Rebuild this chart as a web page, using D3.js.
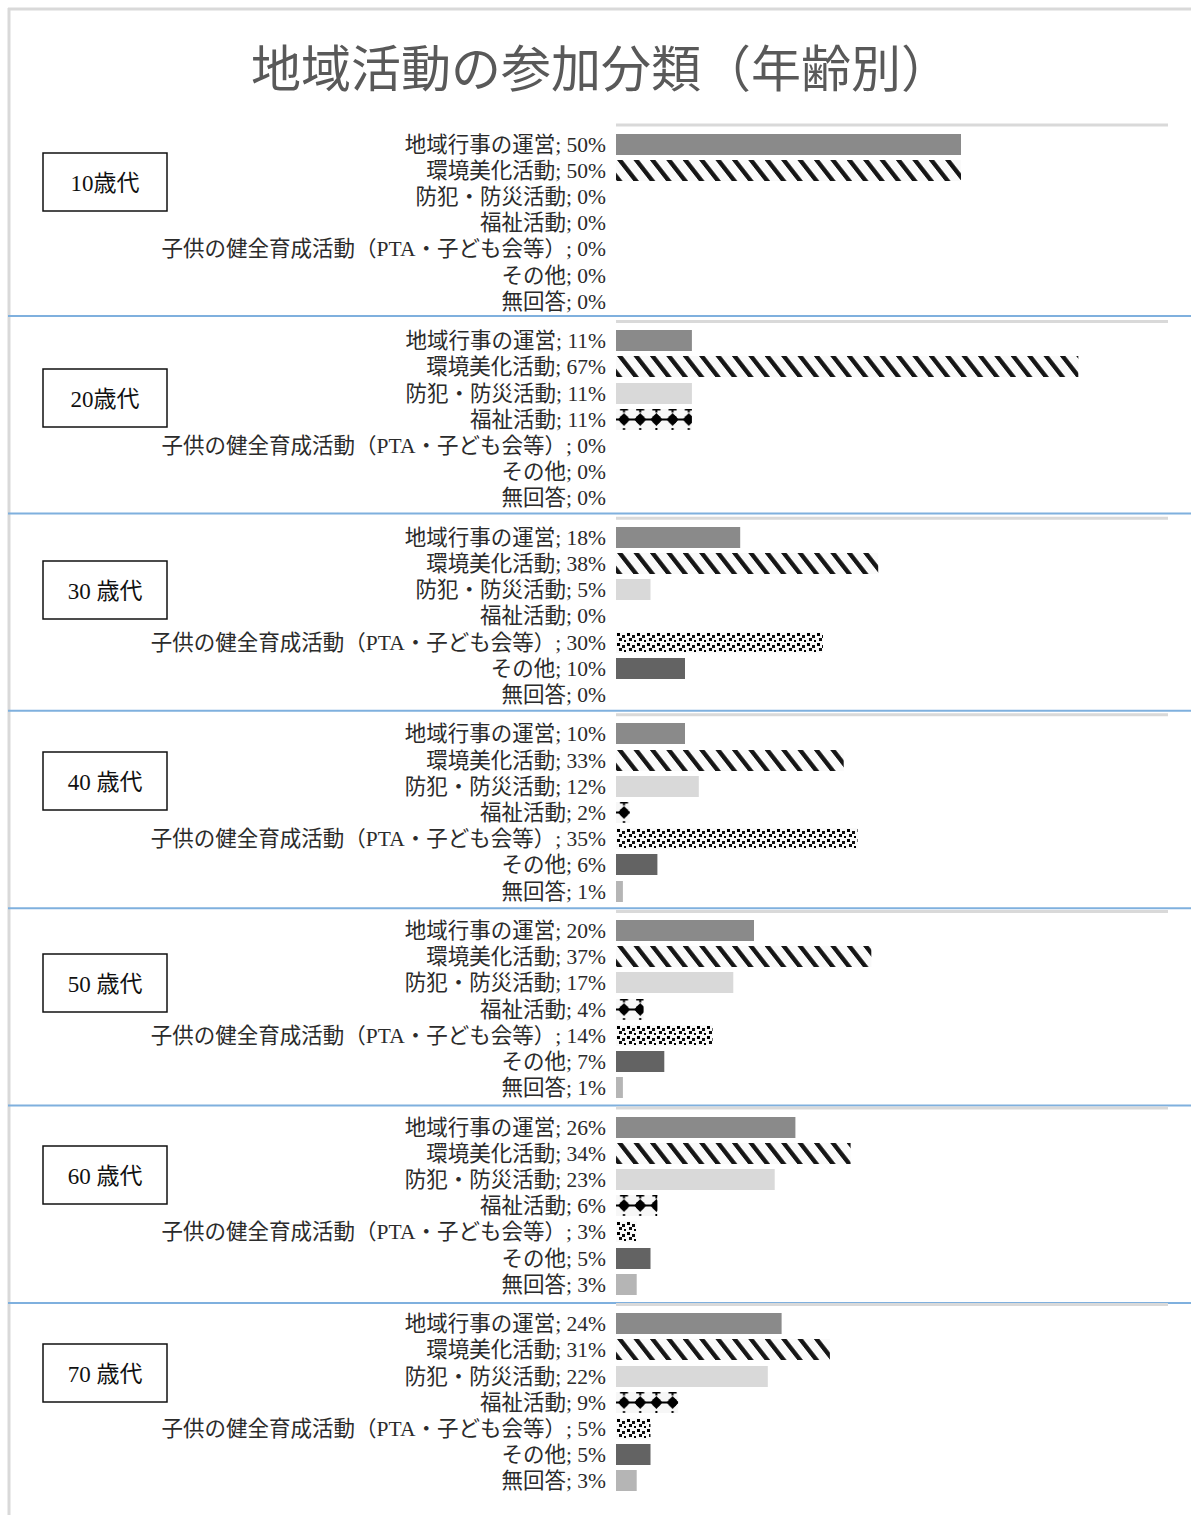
<!doctype html>
<html>
<head>
<meta charset="utf-8">
<script src="https://d3js.org/d3.v7.min.js"></script>
<style>
  body { margin: 0; background: #fff; }
  text { font-family: "Liberation Serif", "Noto Sans CJK JP", serif; }
</style>
</head>
<body>
<script>
// categories (one bar each, same order in every age group)
var categories = [
  "地域行事の運営",
  "環境美化活動",
  "防犯・防災活動",
  "福祉活動",
  "子供の健全育成活動（PTA・子ども会等）",
  "その他",
  "無回答"
];

// age group box labels
var ageLabels = ["10歳代", "20歳代", "30 歳代", "40 歳代", "50 歳代", "60 歳代", "70 歳代"];

// percentages per age group
var age10 = [50, 50, 0, 0, 0, 0, 0];
var age20 = [11, 67, 11, 11, 0, 0, 0];
var age30 = [18, 38, 5, 0, 30, 10, 0];
var age40 = [10, 33, 12, 2, 35, 6, 1];
var age50 = [20, 37, 17, 4, 14, 7, 1];
var age60 = [26, 34, 23, 6, 3, 5, 3];
var age70 = [24, 31, 22, 9, 5, 5, 3];
var groups = [age10, age20, age30, age40, age50, age60, age70];

var width = 1191, height = 1515;

var svg = d3.select("body").append("svg")
    .attr("width", width)
    .attr("height", height);

// fills: plain greys and a few patterns
var defs = svg.append("defs");

var stripes = defs.append("pattern")
    .attr("id", "stripes")
    .attr("patternUnits", "userSpaceOnUse")
    .attr("width", 16.4).attr("height", 21)
    .attr("patternTransform", "skewX(38)");
stripes.append("rect").attr("width", 16.4).attr("height", 21).attr("fill", "#fafafa");
stripes.append("rect").attr("x", 1).attr("width", 5.5).attr("height", 21).attr("fill", "#151515");

var diamonds = defs.append("pattern")
    .attr("id", "diamonds")
    .attr("patternUnits", "userSpaceOnUse")
    .attr("width", 16.2).attr("height", 21);
diamonds.append("rect").attr("width", 16.2).attr("height", 21).attr("fill", "#f7f7f7");
diamonds.append("path").attr("d", "M8,4 L14,10.5 L8,17 L2,10.5 Z").attr("fill", "#000");
diamonds.append("circle").attr("cx", 8).attr("cy", 10.5).attr("r", 4.5).attr("fill", "#000");
diamonds.append("rect").attr("x", 0).attr("y", 9.5).attr("width", 16.2).attr("height", 2).attr("fill", "#000");
diamonds.append("rect").attr("x", 4).attr("y", 0).attr("width", 8).attr("height", 1.5).attr("fill", "#000");
diamonds.append("rect").attr("x", 7).attr("y", 0).attr("width", 2).attr("height", 3.5).attr("fill", "#000");
diamonds.append("rect").attr("x", 7).attr("y", 19).attr("width", 2).attr("height", 2).attr("fill", "#000");

var confetti = defs.append("pattern")
    .attr("id", "confetti")
    .attr("patternUnits", "userSpaceOnUse")
    .attr("width", 10).attr("height", 10);
confetti.append("rect").attr("width", 10).attr("height", 10).attr("fill", "#fafafa");
confetti.append("rect").attr("x", 1).attr("y", 1).attr("width", 3).attr("height", 3).attr("fill", "#000");
confetti.append("rect").attr("x", 6).attr("y", 3).attr("width", 3).attr("height", 3).attr("fill", "#111");
confetti.append("rect").attr("x", 3).attr("y", 6).attr("width", 3).attr("height", 3).attr("fill", "#111");
confetti.append("rect").attr("x", 8).attr("y", 8).attr("width", 2).attr("height", 2).attr("fill", "#000");

var fills = ["#8a8a8a", "url(#stripes)", "#d9d9d9", "url(#diamonds)", "url(#confetti)", "#636363", "#b5b5b5"];

// outer frame (top and left only are visible)
svg.append("line").attr("x1", 8).attr("x2", width).attr("y1", 9).attr("y2", 9)
    .attr("stroke", "#d9d9d9").attr("stroke-width", 3);
svg.append("line").attr("x1", 9).attr("x2", 9).attr("y1", 8).attr("y2", height)
    .attr("stroke", "#d9d9d9").attr("stroke-width", 3);

// title
svg.append("text")
    .attr("x", 601)
    .attr("y", 87)
    .attr("text-anchor", "middle")
    .attr("font-size", "50px")
    .attr("fill", "#595959")
    .style("font-family", "'Noto Sans CJK JP', sans-serif")
    .text("地域活動の参加分類（年齢別）");

// shared x scale: 0-80% across the plot area
var x = d3.scaleLinear().domain([0, 80]).range([616, 1168]);

var groupStep = 196.6;
var firstTop = 125;
var boxTops = [153, 369, 561, 752, 954, 1146, 1344];

groups.forEach(function(vals, gi) {
  var top = firstTop + gi * groupStep;
  var g = svg.append("g");

  // grey axis line on top of each panel
  g.append("line")
      .attr("x1", x(0)).attr("x2", x(80))
      .attr("y1", top).attr("y2", top)
      .attr("stroke", "#d9d9d9").attr("stroke-width", 3);

  var y = d3.scaleBand()
      .domain(categories)
      .range([top + 6, top + 6 + 7 * 26.2])
      .paddingInner(0.2)
      .paddingOuter(0.1);

  var rows = categories.map(function(c, i) { return {cat: c, v: vals[i], i: i}; });

  // each bar sits in its own translated group so the patterns start at the bar's corner
  g.selectAll("g.bar")
    .data(rows.filter(function(d) { return d.v > 0; }))
    .enter().append("g")
      .attr("class", "bar")
      .attr("transform", function(d) { return "translate(" + x(0) + "," + Math.round(y(d.cat)) + ")"; })
    .append("rect")
      .attr("width", function(d) { return x(d.v) - x(0); })
      .attr("height", Math.round(y.bandwidth()))
      .attr("fill", function(d) { return fills[d.i]; });

  g.selectAll("text.lbl")
    .data(rows)
    .enter().append("text")
      .attr("class", "lbl")
      .attr("x", 606)
      .attr("y", function(d) { return y(d.cat) + y.bandwidth() / 2 + 7.5; })
      .attr("text-anchor", "end")
      .attr("font-size", "21.5px")
      .attr("fill", "#2b2b2b")
      .text(function(d) { return d.cat + "; " + d.v + "%"; });

  // age box
  g.append("rect")
      .attr("x", 43).attr("y", boxTops[gi])
      .attr("width", 124).attr("height", 58)
      .attr("fill", "#fff")
      .attr("stroke", "#111").attr("stroke-width", 1.5);
  g.append("text")
      .attr("x", 105).attr("y", boxTops[gi] + 38)
      .attr("text-anchor", "middle")
      .attr("font-size", "23px")
      .attr("fill", "#111")
      .text(ageLabels[gi]);

  // blue separator below the panel
  if (gi < groups.length - 1) {
    var sepY = 316 + gi * 197.4;
    svg.append("line")
        .attr("x1", 8).attr("x2", width)
        .attr("y1", sepY).attr("y2", sepY)
        .attr("stroke", "#7fb0de").attr("stroke-width", 2);
  }
});
</script>
</body>
</html>
